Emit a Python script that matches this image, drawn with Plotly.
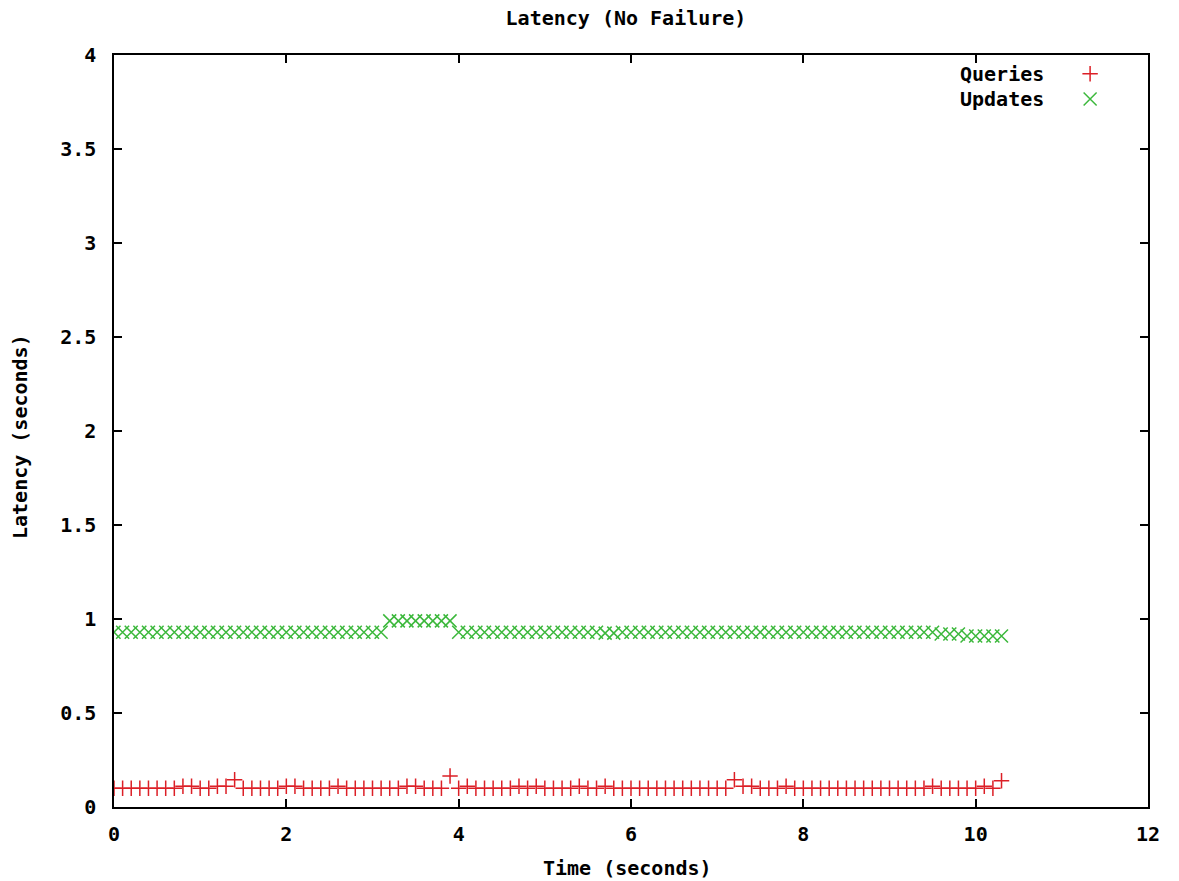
import plotly.graph_objects as go

# ---- data ----
time_s = [round(i * 0.1, 1) for i in range(104)]  # 0.0 .. 10.3

queries = [0.10] * 104
for i in [8, 9, 12, 13, 20, 21, 26, 34, 35, 41, 47, 49, 54, 57, 73, 74, 78, 95, 101]:
    queries[i] = 0.11
queries[14] = 0.145
queries[39] = 0.165
queries[72] = 0.145
queries[103] = 0.14

updates = (
    [0.93] * 32            # 0.0 - 3.1
    + [0.99] * 8           # 3.2 - 3.9
    + [0.93] * 17          # 4.0 - 5.6
    + [0.925] * 2          # 5.7 - 5.8
    + [0.93] * 37          # 5.9 - 9.5
    + [0.92] * 3           # 9.6 - 9.8
    + [0.91] * 5           # 9.9 - 10.3
)

x_ticks = [0, 2, 4, 6, 8, 10, 12]
y_ticks = [0, 0.5, 1, 1.5, 2, 2.5, 3, 3.5, 4]
y_tick_text = ["0", "0.5", "1", "1.5", "2", "2.5", "3", "3.5", "4"]

series_names = ["Queries", "Updates"]
RED = "#dc1f26"
GREEN = "#3cb83c"
FONT = "DejaVu Sans Mono"
FS = 20

W, H = 1179, 881
L, R, T, B = 114, 31, 55, 74

fig = go.Figure()
fig.add_trace(go.Scatter(
    x=time_s, y=queries, mode="markers", name=series_names[0],
    marker=dict(symbol="cross-thin", size=11, line=dict(color=RED, width=1.5)),
    showlegend=False,
))
fig.add_trace(go.Scatter(
    x=time_s, y=updates, mode="markers", name=series_names[1],
    marker=dict(symbol="x-thin", size=13, line=dict(color=GREEN, width=1.5)),
    showlegend=False,
))

# legend keys (gnuplot style: text then symbol) on a hidden overlay axis
fig.add_trace(go.Scatter(
    x=[0.944], y=[0.975], xaxis="x2", yaxis="y2", mode="markers",
    marker=dict(symbol="cross-thin", size=11, line=dict(color=RED, width=1.5)),
    showlegend=False, hoverinfo="skip",
))
fig.add_trace(go.Scatter(
    x=[0.944], y=[0.9415], xaxis="x2", yaxis="y2", mode="markers",
    marker=dict(symbol="x-thin", size=13, line=dict(color=GREEN, width=1.5)),
    showlegend=False, hoverinfo="skip",
))

axis_common = dict(
    showline=True, linecolor="black", linewidth=1.5, mirror="ticks",
    ticks="inside", ticklen=8, tickwidth=1.5, tickcolor="black",
    showgrid=False, zeroline=False, automargin=False,
    tickfont=dict(family=FONT, size=FS, color="black"),
)

def px_x(px):
    return (px - L) / (W - L - R)

def px_y(py):
    return (H - B - py) / (H - T - B)

txt_font = dict(family=FONT, size=FS, color="black")

fig.update_layout(
    width=W, height=H,
    margin=dict(l=L, r=R, t=T, b=B),
    paper_bgcolor="white", plot_bgcolor="white",
    font=dict(family=FONT, color="black"),
    title=dict(
        text="<b>Latency (No Failure)</b>",
        x=(495 + 757) / 2 / W, xanchor="center",
        y=1 - 18 / H, yanchor="middle", yref="container",
        font=txt_font,
    ),
    xaxis=dict(
        range=[0, 12], tickvals=x_ticks, ticktext=[f"<b>{v}</b>" for v in x_ticks],
        ticklabelstandoff=8,
        **axis_common,
    ),
    yaxis=dict(
        range=[0, 4], tickvals=y_ticks, ticktext=[f"<b>{t}</b>" for t in y_tick_text],
        ticklabelstandoff=12,
        **axis_common,
    ),
    xaxis2=dict(overlaying="x", range=[0, 1], visible=False, fixedrange=True),
    yaxis2=dict(overlaying="y", range=[0, 1], visible=False, fixedrange=True),
    annotations=[
        dict(text="<b>Time (seconds)</b>", x=px_x(627), y=px_y(868),
             xref="paper", yref="paper", xanchor="center", yanchor="middle",
             showarrow=False, font=txt_font),
        dict(text="<b>Latency (seconds)</b>", x=px_x(20), y=px_y(437),
             xref="paper", yref="paper", xanchor="center", yanchor="middle",
             textangle=-90, showarrow=False, font=txt_font),
        dict(text=f"<b>{series_names[0]}</b>", x=px_x(1046), y=px_y(74),
             xref="paper", yref="paper", xanchor="right", yanchor="middle",
             showarrow=False, font=txt_font),
        dict(text=f"<b>{series_names[1]}</b>", x=px_x(1046), y=px_y(99),
             xref="paper", yref="paper", xanchor="right", yanchor="middle",
             showarrow=False, font=txt_font),
    ],
)

fig.write_html("out.html")
